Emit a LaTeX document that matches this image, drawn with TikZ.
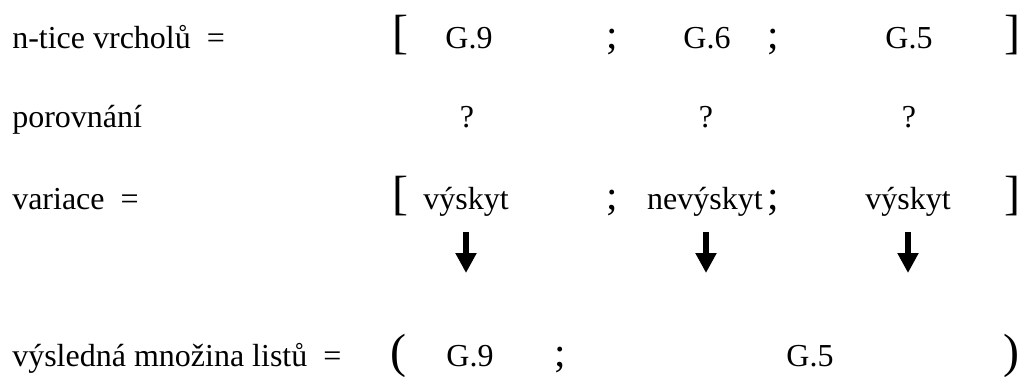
\documentclass[tikz,border=0pt]{standalone}
\usepackage{fontspec}
\setmainfont{Liberation Serif}
\usetikzlibrary{arrows.meta}
\tikzset{
  txt/.style={inner sep=0pt, anchor=base, font=\fontsize{24}{28}\selectfont},
  lbl/.style={inner sep=0pt, anchor=base west, font=\fontsize{24}{28}\selectfont},
  brk/.style={inner sep=0pt, anchor=base, font=\fontsize{36}{42}\selectfont},
  sep/.style={inner sep=0pt, anchor=base, font=\fontsize{31}{36}\selectfont},
  bigarrow/.style={line width=5pt, -{Triangle[width=15pt,length=15pt]}}
}
\begin{document}
\begin{tikzpicture}[x=0.75pt,y=-0.75pt]
\useasboundingbox (0,0) rectangle (1027,376);
% row 1
\node[lbl] (l1) at (12,48) {n-tice vrcholů \ =};
\node[brk] (b1l) at (400,48) {[};
\node[txt] (r1a) at (469,48) {G.9};
\node[sep] (s1a) at (612,48) {;};
\node[txt] (r1b) at (707,48) {G.6};
\node[sep] (s1b) at (773,48) {;};
\node[txt] (r1c) at (909,48) {G.5};
\node[brk] (b1r) at (1012,48) {]};
% row 2
\node[lbl] (l2) at (12,127) {porovnání};
\node[txt] (q1) at (467,127) {?};
\node[txt] (q2) at (706,127) {?};
\node[txt] (q3) at (909,127) {?};
% row 3
\node[lbl] (l3) at (12,209) {variace \ =};
\node[brk] (b3l) at (400,209) {[};
\node[txt] (r3a) at (466,209) {výskyt};
\node[sep] (s3a) at (612,209) {;};
\node[txt] (r3b) at (705,209) {nevýskyt};
\node[sep] (s3b) at (773,209) {;};
\node[txt] (r3c) at (908,209) {výskyt};
\node[brk] (b3r) at (1012,209) {]};
% arrows
\coordinate (a1s) at (466,232); \coordinate (a1e) at (466,273);
\coordinate (a2s) at (706,232); \coordinate (a2e) at (706,273);
\coordinate (a3s) at (908,232); \coordinate (a3e) at (908,273);
\draw[bigarrow] (a1s) -- (a1e);
\draw[bigarrow] (a2s) -- (a2e);
\draw[bigarrow] (a3s) -- (a3e);
% row 4
\node[lbl] (l4) at (12,366) {výsledná množina listů \ =};
\node[brk] (b4l) at (398,367) {(};
\node[txt] (r4a) at (470,366) {G.9};
\node[sep] (s4a) at (560,366) {;};
\node[txt] (r4c) at (810,366) {G.5};
\node[brk] (b4r) at (1011,367) {)};
\end{tikzpicture}
\end{document}
